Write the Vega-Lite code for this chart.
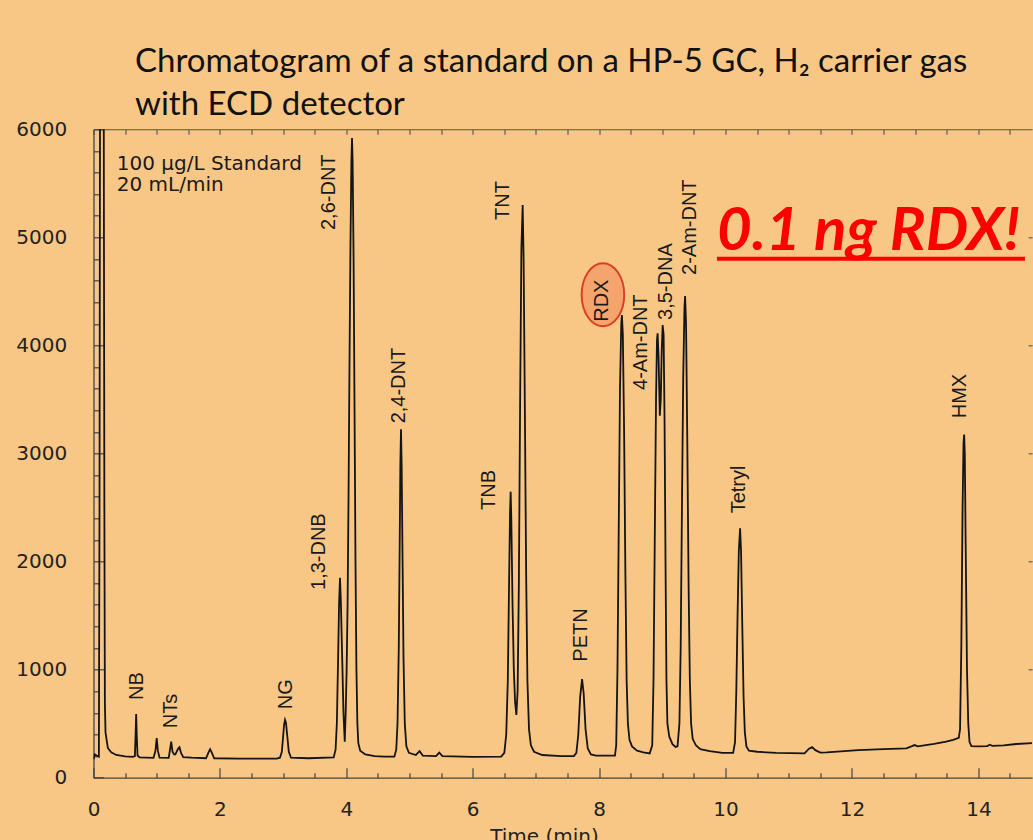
{
  "$schema": "https://vega.github.io/schema/vega-lite/v6.json",
  "width": 938.6,
  "height": 648.4,
  "autosize": {"type": "none"},
  "padding": {"left": 93.5, "top": 129.3, "right": 0.9, "bottom": 62.3},
  "background": "#F9C785",
  "config": {"view": {"stroke": null}},
  "title": {
    "text": ["Chromatogram of a standard on a HP-5 GC, H₂ carrier gas", "with ECD detector"],
    "anchor": "start",
    "frame": "group",
    "dx": 41.5,
    "offset": -29,
    "baseline": "alphabetic",
    "lineHeight": 43,
    "font": "Lato",
    "fontSize": 33,
    "fontWeight": "normal",
    "color": "#111111"
  },
  "datasets": {
    "trace": [
      {"t":0,"v":170},{"t":0.02,"v":215},{"t":0.05,"v":205},{"t":0.085,"v":195},{"t":0.095,"v":2500},{"t":0.105,"v":7000},{"t":0.135,"v":9500},{"t":0.16,"v":7000},{"t":0.172,"v":2500},{"t":0.18,"v":700},{"t":0.19,"v":420},{"t":0.227,"v":275},{"t":0.28,"v":235},{"t":0.36,"v":210},{"t":0.5,"v":198},{"t":0.62,"v":192},
      {"t":0.655,"v":200},{"t":0.665,"v":380},{"t":0.675,"v":589},{"t":0.685,"v":380},{"t":0.697,"v":205},{"t":0.73,"v":188},
      {"t":0.95,"v":184},{"t":0.98,"v":250},{"t":1.0,"v":366},{"t":1.018,"v":250},{"t":1.045,"v":186},
      {"t":1.19,"v":184},{"t":1.213,"v":270},{"t":1.23,"v":334},{"t":1.25,"v":240},{"t":1.275,"v":215},
      {"t":1.295,"v":215},{"t":1.34,"v":270},{"t":1.36,"v":282},{"t":1.385,"v":230},{"t":1.42,"v":190},{"t":1.55,"v":185},
      {"t":1.78,"v":180},{"t":1.82,"v":235},{"t":1.845,"v":264},{"t":1.87,"v":235},{"t":1.91,"v":180},{"t":2.3,"v":176},{"t":2.9,"v":177},
      {"t":2.95,"v":185},{"t":2.98,"v":240},{"t":3.0,"v":380},{"t":3.015,"v":490},{"t":3.03,"v":536},{"t":3.045,"v":510},{"t":3.065,"v":390},{"t":3.09,"v":240},{"t":3.125,"v":185},{"t":3.4,"v":180},{"t":3.8,"v":188},
      {"t":3.83,"v":260},{"t":3.85,"v":500},{"t":3.87,"v":1100},{"t":3.885,"v":1600},{"t":3.9,"v":1851},{"t":3.915,"v":1600},{"t":3.935,"v":1100},{"t":3.955,"v":600},{"t":3.975,"v":334},
      {"t":3.99,"v":600},{"t":4.005,"v":1000},{"t":4.02,"v":1600},{"t":4.035,"v":2600},{"t":4.05,"v":3800},{"t":4.065,"v":4900},{"t":4.08,"v":5700},{"t":4.09,"v":5920},{"t":4.1,"v":5700},{"t":4.115,"v":4800},{"t":4.13,"v":3400},{"t":4.145,"v":2000},{"t":4.16,"v":1000},{"t":4.175,"v":500},{"t":4.19,"v":320},{"t":4.22,"v":250},{"t":4.3,"v":215},{"t":4.45,"v":200},{"t":4.6,"v":195},{"t":4.76,"v":195},
      {"t":4.79,"v":260},{"t":4.81,"v":500},{"t":4.83,"v":1200},{"t":4.845,"v":2200},{"t":4.855,"v":2900},{"t":4.865,"v":3224},{"t":4.875,"v":2900},{"t":4.89,"v":2000},{"t":4.905,"v":1100},{"t":4.925,"v":500},{"t":4.95,"v":290},{"t":4.99,"v":230},{"t":5.1,"v":210},{"t":5.16,"v":245},{"t":5.21,"v":205},{"t":5.42,"v":200},{"t":5.47,"v":232},{"t":5.52,"v":200},{"t":6.0,"v":192},{"t":6.45,"v":195},
      {"t":6.5,"v":230},{"t":6.53,"v":400},{"t":6.555,"v":900},{"t":6.575,"v":1800},{"t":6.59,"v":2450},{"t":6.6,"v":2647},{"t":6.61,"v":2400},{"t":6.63,"v":1600},{"t":6.65,"v":1000},{"t":6.67,"v":700},{"t":6.69,"v":580},
      {"t":6.71,"v":800},{"t":6.73,"v":1800},{"t":6.75,"v":3500},{"t":6.77,"v":4900},{"t":6.79,"v":5300},{"t":6.805,"v":4800},{"t":6.825,"v":3400},{"t":6.845,"v":1900},{"t":6.865,"v":900},{"t":6.89,"v":450},{"t":6.92,"v":300},{"t":6.97,"v":240},{"t":7.1,"v":210},{"t":7.4,"v":200},{"t":7.6,"v":200},
      {"t":7.64,"v":230},{"t":7.67,"v":400},{"t":7.7,"v":750},{"t":7.73,"v":913},{"t":7.755,"v":780},{"t":7.785,"v":450},{"t":7.82,"v":270},{"t":7.87,"v":215},{"t":7.95,"v":205},{"t":8.25,"v":205},
      {"t":8.27,"v":300},{"t":8.29,"v":1000},{"t":8.31,"v":2300},{"t":8.33,"v":3600},{"t":8.35,"v":4200},{"t":8.36,"v":4281},{"t":8.375,"v":4100},{"t":8.395,"v":3200},{"t":8.415,"v":1900},{"t":8.435,"v":900},{"t":8.455,"v":500},{"t":8.48,"v":350},{"t":8.52,"v":290},{"t":8.6,"v":250},{"t":8.7,"v":235},{"t":8.8,"v":225},
      {"t":8.84,"v":300},{"t":8.86,"v":900},{"t":8.88,"v":2200},{"t":8.9,"v":3500},{"t":8.915,"v":4050},{"t":8.925,"v":4112},{"t":8.94,"v":3900},{"t":8.96,"v":3350},{"t":8.975,"v":3500},{"t":8.99,"v":3950},{"t":9.005,"v":4188},{"t":9.02,"v":4100},{"t":9.035,"v":3300},{"t":9.05,"v":2000},{"t":9.065,"v":900},{"t":9.08,"v":500},{"t":9.11,"v":380},{"t":9.16,"v":310},{"t":9.21,"v":285},
      {"t":9.24,"v":290},{"t":9.27,"v":500},{"t":9.29,"v":1200},{"t":9.31,"v":2500},{"t":9.33,"v":3700},{"t":9.35,"v":4350},{"t":9.36,"v":4457},{"t":9.375,"v":4200},{"t":9.395,"v":3100},{"t":9.415,"v":1800},{"t":9.435,"v":900},{"t":9.455,"v":500},{"t":9.48,"v":360},{"t":9.53,"v":300},{"t":9.6,"v":265},{"t":9.75,"v":245},{"t":9.95,"v":230},{"t":10.12,"v":230},
      {"t":10.15,"v":330},{"t":10.17,"v":800},{"t":10.19,"v":1500},{"t":10.21,"v":2100},{"t":10.23,"v":2308},{"t":10.245,"v":2100},{"t":10.265,"v":1400},{"t":10.285,"v":750},{"t":10.305,"v":420},{"t":10.33,"v":290},{"t":10.37,"v":250},{"t":10.5,"v":240},{"t":10.8,"v":230},{"t":11.25,"v":226},{"t":11.32,"v":268},{"t":11.37,"v":283},{"t":11.42,"v":255},{"t":11.5,"v":232},{"t":11.6,"v":234},{"t":12.1,"v":256},{"t":12.5,"v":264},{"t":12.86,"v":272},{"t":12.95,"v":292},{"t":12.99,"v":302},{"t":13.04,"v":290},{"t":13.3,"v":312},{"t":13.49,"v":333},{"t":13.6,"v":350},{"t":13.69,"v":368},
      {"t":13.71,"v":450},{"t":13.73,"v":1200},{"t":13.75,"v":2500},{"t":13.765,"v":3100},{"t":13.775,"v":3175},{"t":13.785,"v":3000},{"t":13.8,"v":2100},{"t":13.82,"v":1000},{"t":13.84,"v":500},{"t":13.86,"v":330},{"t":13.89,"v":293},{"t":14.0,"v":290},{"t":14.14,"v":293},{"t":14.18,"v":305},{"t":14.22,"v":295},{"t":14.4,"v":300},{"t":14.6,"v":312},{"t":14.85,"v":320}
    ],
    "peaks": [
      {"name":"NB","t":0.688,"v":719},
      {"name":"NTs","t":1.23,"v":457},
      {"name":"NG","t":3.05,"v":633},
      {"name":"1,3-DNB","t":3.56,"v":1737},
      {"name":"2,6-DNT","t":3.73,"v":5068},
      {"name":"2,4-DNT","t":4.84,"v":3279},
      {"name":"TNB","t":6.25,"v":2477},
      {"name":"TNT","t":6.48,"v":5161},
      {"name":"PETN","t":7.72,"v":1074},
      {"name":"RDX","t":8.05,"v":4219},
      {"name":"4-Am-DNT","t":8.66,"v":3588},
      {"name":"3,5-DNA","t":9.05,"v":4236},
      {"name":"2-Am-DNT","t":9.43,"v":4652},
      {"name":"Tetryl","t":10.22,"v":2446},
      {"name":"HMX","t":13.71,"v":3326}
    ],
    "circle": [{"t":8.06,"v":4469}],
    "info": [
      {"text":"100 µg/L Standard","t":0.368,"v":5623},
      {"text":"20 mL/min","t":0.368,"v":5432}
    ],
    "callout": [{"text":"0.1 ng RDX!","t":9.864,"t2":14.737,"v":4883,"u":4802}]
  },
  "layer": [
    {
      "data": {"name": "circle"},
      "mark": {"type": "point", "shape": "M -0.676 0 A 0.676 1 0 1 0 0.676 0 A 0.676 1 0 1 0 -0.676 0 Z", "size": 3969, "filled": true, "fill": "#F5A46E", "stroke": "#D9402A", "strokeWidth": 2, "opacity": 1},
      "encoding": {
        "x": {"field": "t", "type": "quantitative", "axis": null},
        "y": {"field": "v", "type": "quantitative", "axis": null}
      }
    },
    {
      "data": {"name": "trace"},
      "mark": {"type": "line", "color": "#141414", "strokeWidth": 1.8, "clip": true},
      "encoding": {
        "x": {
          "field": "t", "type": "quantitative",
          "scale": {"domain": [0, 14.85], "nice": false, "zero": false},
          "axis": {
            "orient": "bottom",
            "values": [0,0.5,1,1.5,2,2.5,3,3.5,4,4.5,5,5.5,6,6.5,7,7.5,8,8.5,9,9.5,10,10.5,11,11.5,12,12.5,13,13.5,14,14.5],
            "labelExpr": "datum.value % 2 === 0 ? format(datum.value, 'd') : ''",
            "tickSize": {"condition": {"test": "datum.value % 2 === 0", "value": -10}, "value": -5},
            "tickColor": "#444444", "tickWidth": 1.2,
            "domainColor": "#444444", "domainWidth": 1.3,
            "labelFont": "DejaVu Sans", "labelFontSize": 20, "labelColor": "#222222",
            "labelPadding": 31.5, "labelFlush": false, "labelOverlap": false,
            "grid": false,
            "title": "Time (min)", "titleFont": "DejaVu Sans", "titleFontSize": 20, "titleFontWeight": "normal", "titleColor": "#222222",
            "titleX": 450.5, "titleY": 49, "titleBaseline": "top", "titleAlign": "center"
          }
        },
        "y": {
          "field": "v", "type": "quantitative",
          "scale": {"domain": [0, 6000], "nice": false, "zero": false},
          "axis": {
            "orient": "left",
            "values": [0,200,400,600,800,1000,1200,1400,1600,1800,2000,2200,2400,2600,2800,3000,3200,3400,3600,3800,4000,4200,4400,4600,4800,5000,5200,5400,5600,5800,6000],
            "labelExpr": "datum.value % 1000 === 0 ? format(datum.value, 'd') : ''",
            "tickSize": {"condition": {"test": "datum.value % 1000 === 0", "value": -10}, "value": -5},
            "tickColor": "#444444", "tickWidth": 1.2,
            "domainColor": "#444444", "domainWidth": 1.3,
            "labelFont": "DejaVu Sans", "labelFontSize": 20, "labelColor": "#222222",
            "labelPadding": 36.8, "labelFlush": false, "labelOverlap": false,
            "grid": false, "title": null
          }
        }
      }
    },
    {
      "data": {"name": "callout"},
      "mark": {"type": "rule", "color": "#FF0000", "strokeWidth": 4},
      "encoding": {
        "x": {
          "field": "t", "type": "quantitative",
          "axis": {
            "orient": "top",
            "values": [0,0.5,1,1.5,2,2.5,3,3.5,4,4.5,5,5.5,6,6.5,7,7.5,8,8.5,9,9.5,10,10.5,11,11.5,12,12.5,13,13.5,14,14.5],
            "labels": false,
            "tickSize": -5, "tickColor": "#555555", "tickWidth": 1.1,
            "domainColor": "#555555", "domainWidth": 1.1,
            "grid": false, "title": null
          }
        },
        "x2": {"field": "t2"},
        "y": {
          "field": "u", "type": "quantitative",
          "axis": {
            "orient": "right",
            "values": [1000,2000,3000,4000,5000],
            "labels": false, "domain": false,
            "tickSize": -4, "tickColor": "#555555", "tickWidth": 1.1,
            "grid": false, "title": null
          }
        }
      }
    },
    {
      "data": {"name": "callout"},
      "mark": {"type": "text", "font": "Lato", "fontSize": 60, "fontStyle": "italic", "fontWeight": "bold", "color": "#FF0000", "align": "left", "baseline": "alphabetic"},
      "encoding": {
        "x": {"field": "t", "type": "quantitative", "axis": null},
        "y": {"field": "v", "type": "quantitative", "axis": null},
        "text": {"field": "text"}
      }
    },
    {
      "data": {"name": "peaks"},
      "mark": {"type": "text", "font": "Liberation Sans", "fontSize": 20, "angle": 270, "align": "left", "baseline": "middle", "color": "#1a1a1a"},
      "encoding": {
        "x": {"field": "t", "type": "quantitative", "axis": null},
        "y": {"field": "v", "type": "quantitative", "axis": null},
        "text": {"field": "name"}
      }
    },
    {
      "data": {"name": "info"},
      "mark": {"type": "text", "font": "DejaVu Sans", "fontSize": 20, "align": "left", "baseline": "alphabetic", "color": "#1a1a1a"},
      "encoding": {
        "x": {"field": "t", "type": "quantitative", "axis": null},
        "y": {"field": "v", "type": "quantitative", "axis": null},
        "text": {"field": "text"}
      }
    }
  ],
  "resolve": {"axis": {"x": "independent", "y": "independent"}}
}
